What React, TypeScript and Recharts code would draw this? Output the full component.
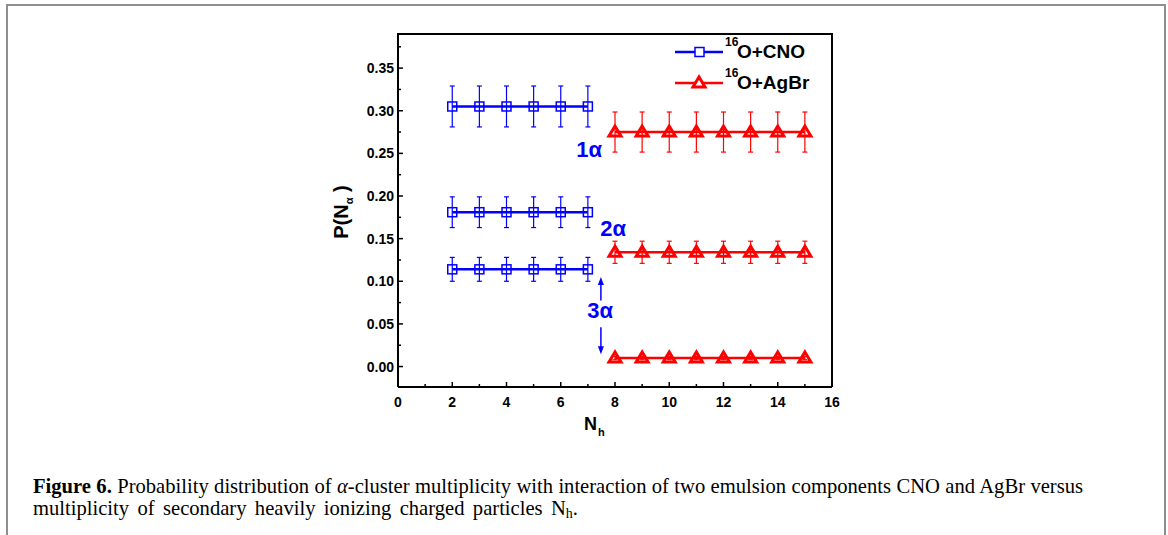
import { ComposedChart, Line, XAxis, YAxis, ErrorBar, Legend, ReferenceLine, ReferenceDot } from 'recharts';

const BLUE = '#0000ff';
const RED = '#ff0000';
const SANS = '"Liberation Sans", Arial, sans-serif';

// N_h values for each emulsion component
const nhCNO = [2, 3, 4, 5, 6, 7];
const nhAgBr = [8, 9, 10, 11, 12, 13, 14, 15];

// 16O + CNO : P(N_alpha) and errors
const cno1a = [0.305, 0.305, 0.305, 0.305, 0.305, 0.305];
const cno1aErr = [0.024, 0.024, 0.024, 0.024, 0.024, 0.024];
const cno2a = [0.181, 0.181, 0.181, 0.181, 0.181, 0.181];
const cno2aErr = [0.018, 0.018, 0.018, 0.018, 0.018, 0.018];
const cno3a = [0.114, 0.114, 0.114, 0.114, 0.114, 0.114];
const cno3aErr = [0.014, 0.014, 0.014, 0.014, 0.014, 0.014];

// 16O + AgBr
const agbr1a = [0.275, 0.275, 0.275, 0.275, 0.275, 0.275, 0.275, 0.275];
const agbr1aErr = [0.0235, 0.0235, 0.0235, 0.0235, 0.0235, 0.0235, 0.0235, 0.0235];
const agbr2a = [0.134, 0.134, 0.134, 0.134, 0.134, 0.134, 0.134, 0.134];
const agbr2aErr = [0.013, 0.013, 0.013, 0.013, 0.013, 0.013, 0.013, 0.013];
const agbr3a = [0.01, 0.01, 0.01, 0.01, 0.01, 0.01, 0.01, 0.01];
const agbr3aErr = [0.002, 0.002, 0.002, 0.002, 0.002, 0.002, 0.002, 0.002];

const xDomain = [0, 16];
const yDomain = [-0.024, 0.39];
const xTicks = [0, 1, 2, 3, 4, 5, 6, 7, 8, 9, 10, 11, 12, 13, 14, 15, 16];
const yTicks = [0, 0.025, 0.05, 0.075, 0.1, 0.125, 0.15, 0.175, 0.2, 0.225, 0.25, 0.275, 0.3, 0.325, 0.35, 0.375];

// multiplicity annotations (label, x, y)
const annotations = [
  { text: '1\u03b1', x: 7.05, y: 0.2545 },
  { text: '2\u03b1', x: 7.93, y: 0.162 },
  { text: '3\u03b1', x: 7.45, y: 0.066 },
];
const arrowUp = [{ x: 7.48, y: 0.0775 }, { x: 7.48, y: 0.105 }];
const arrowDown = [{ x: 7.48, y: 0.046 }, { x: 7.48, y: 0.0145 }];

// chart layout
const W = 1168;
const H = 535;
const MARGIN = { top: 34, right: 336, bottom: 118, left: 338 };
const Y_AXIS_W = 60;
const X_AXIS_H = 30;
const plotLeft = MARGIN.left + Y_AXIS_W;
const plotRight = W - MARGIN.right;
const plotTop = MARGIN.top;
const plotBottom = H - MARGIN.bottom - X_AXIS_H;

const rows = (xs: number[], ys: number[], errs: number[]) =>
  xs.map((x, i) => ({ x, y: ys[i], err: errs[i] }));

const SquareDot = (p: any) => {
  if (p.cx == null || p.cy == null) return null;
  return <rect x={p.cx - 4.5} y={p.cy - 4.5} width={9} height={9} fill="none" stroke={BLUE} strokeWidth={1.5} />;
};

const TriangleDot = (p: any) => {
  if (p.cx == null || p.cy == null) return null;
  const { cx, cy } = p;
  return (
    <polygon
      points={`${cx},${cy - 6} ${cx - 6},${cy + 4} ${cx + 6},${cy + 4}`}
      fill="none"
      stroke={RED}
      strokeWidth={3}
    />
  );
};

const YTick = (p: any) => {
  const v = p.payload.value;
  const major = Math.abs(v * 20 - Math.round(v * 20)) < 1e-6;
  return (
    <g>
      <line x1={p.x} y1={p.y} x2={p.x + (major ? 5 : 3)} y2={p.y} stroke="#000" strokeWidth={1.5} />
      {major && (
        <text x={p.x - 4} y={p.y} dy={5} textAnchor="end" fontFamily={SANS} fontWeight="bold" fontSize={14} fill="#000">
          {v.toFixed(2)}
        </text>
      )}
    </g>
  );
};

const XTick = (p: any) => {
  const v = p.payload.value;
  const major = v % 2 === 0;
  return (
    <g>
      <line x1={p.x} y1={p.y} x2={p.x} y2={p.y - (major ? 5 : 3)} stroke="#000" strokeWidth={1.5} />
      {major && (
        <text x={p.x} y={p.y + 20} textAnchor="middle" fontFamily={SANS} fontWeight="bold" fontSize={14} fill="#000">
          {v}
        </text>
      )}
    </g>
  );
};

const YTitle = (p: any) => {
  const vb = p.viewBox;
  const x = vb.x + 10;
  const y = 212;
  return (
    <text transform={`rotate(-90, ${x}, ${y})`} x={x} y={y} textAnchor="middle" fontFamily={SANS} fontWeight="bold" fontSize={20} fill="#000">
      P(N<tspan fontSize={11} dy={5}>{'\u03b1'}</tspan>
      <tspan dy={-5}> )</tspan>
    </text>
  );
};

const XTitle = (p: any) => {
  const vb = p.viewBox;
  return (
    <text x={vb.x + 186} y={vb.y + 43} fontFamily={SANS} fontWeight="bold" fontSize={18} fill="#000">
      N<tspan fontSize={11} dx={1} dy={6}>h</tspan>
    </text>
  );
};

const Arrow = (p: any) => {
  const { x1, y1, x2, y2 } = p;
  if (x1 == null) return null;
  const dir = Math.sign(y2 - y1);
  return (
    <g>
      <line x1={x1} y1={y1} x2={x2} y2={y2 - dir * 6} stroke={BLUE} strokeWidth={1.5} />
      <polygon points={`${x2},${y2} ${x2 - 3},${y2 - dir * 8} ${x2 + 3},${y2 - dir * 8}`} fill={BLUE} />
    </g>
  );
};

const legendItems = [
  { name: 'O+CNO', color: BLUE, shape: 'square' },
  { name: 'O+AgBr', color: RED, shape: 'triangle' },
];

const LegendContent = () => (
  <div style={{ fontFamily: SANS, fontWeight: 'bold' }}>
    {legendItems.map((it) => (
      <div key={it.name} style={{ display: 'flex', alignItems: 'center', height: 31 }}>
        <svg width={50} height={20}>
          <line x1={0} y1={10} x2={48} y2={10} stroke={it.color} strokeWidth={2.5} />
          {it.shape === 'square' ? (
            <rect x={20} y={5.5} width={9} height={9} fill="#fff" stroke={it.color} strokeWidth={1.5} />
          ) : (
            <polygon points="24,4 18,14 30,14" fill="#fff" stroke={it.color} strokeWidth={3} />
          )}
        </svg>
        <span style={{ fontSize: 19, color: '#000', position: 'relative', paddingLeft: 12 }}>
          <span style={{ fontSize: 12, position: 'absolute', left: 0, top: -6 }}>16</span>
          {it.name}
        </span>
      </div>
    ))}
  </div>
);

const series = [
  { key: 'cno1', data: rows(nhCNO, cno1a, cno1aErr), color: BLUE, dot: SquareDot },
  { key: 'cno2', data: rows(nhCNO, cno2a, cno2aErr), color: BLUE, dot: SquareDot },
  { key: 'cno3', data: rows(nhCNO, cno3a, cno3aErr), color: BLUE, dot: SquareDot },
  { key: 'agbr1', data: rows(nhAgBr, agbr1a, agbr1aErr), color: RED, dot: TriangleDot },
  { key: 'agbr2', data: rows(nhAgBr, agbr2a, agbr2aErr), color: RED, dot: TriangleDot },
  { key: 'agbr3', data: rows(nhAgBr, agbr3a, agbr3aErr), color: RED, dot: TriangleDot },
];

export default function App() {
  return (
    <div style={{ position: 'absolute', left: 0, top: 0, width: W, height: H, background: '#fff', overflow: 'hidden' }}>
      <div
        style={{
          position: 'absolute',
          left: 6,
          top: 4,
          width: 1156,
          height: 560,
          border: '2px solid #8f8f8f',
          borderBottom: 'none',
        }}
      />
      <div style={{ position: 'absolute', left: 0, top: 0 }}>
        <ComposedChart width={W} height={H} margin={MARGIN}>
          <XAxis
            dataKey="x"
            type="number"
            domain={xDomain}
            ticks={xTicks}
            interval={0}
            height={X_AXIS_H}
            tickSize={0}
            tickMargin={0}
            tickLine={false}
            tick={<XTick />}
            axisLine={{ stroke: '#000', strokeWidth: 2 }}
            label={<XTitle />}
          />
          <YAxis
            type="number"
            domain={yDomain}
            ticks={yTicks}
            interval={0}
            width={Y_AXIS_W}
            tickSize={0}
            tickMargin={0}
            tickLine={false}
            tick={<YTick />}
            axisLine={{ stroke: '#000', strokeWidth: 2 }}
            label={<YTitle />}
          />
          {series.map((s) => (
            <Line
              key={s.key}
              data={s.data}
              dataKey="y"
              type="linear"
              stroke={s.color}
              strokeWidth={2.5}
              dot={<s.dot />}
              activeDot={false}
              isAnimationActive={false}
              legendType="none"
            >
              <ErrorBar dataKey="err" direction="y" width={2.5} stroke={s.color} strokeWidth={1.2} />
            </Line>
          ))}
          <ReferenceLine segment={arrowUp} shape={<Arrow />} />
          <ReferenceLine segment={arrowDown} shape={<Arrow />} />
          {annotations.map((a) => (
            <ReferenceDot
              key={a.text}
              x={a.x}
              y={a.y}
              r={0}
              stroke="none"
              fill="none"
              label={{ value: a.text, position: 'center', fill: BLUE, fontSize: 22, fontWeight: 'bold', fontFamily: SANS }}
            />
          ))}
          <Legend
            layout="vertical"
            align="center"
            verticalAlign="middle"
            content={<LegendContent />}
            wrapperStyle={{ position: 'absolute', left: 675, top: 36, width: 160 }}
          />
        </ComposedChart>
      </div>
      {/* top and right sides of the plot box */}
      <div
        style={{
          position: 'absolute',
          left: plotLeft - 1,
          top: plotTop - 1,
          width: plotRight - plotLeft,
          height: plotBottom - plotTop - 1,
          borderTop: '2px solid #000',
          borderRight: '2px solid #000',
          pointerEvents: 'none',
        }}
      />
      <div
        style={{
          position: 'absolute',
          left: 33,
          top: 475,
          width: 1050,
          fontFamily: '"Liberation Serif", "Times New Roman", serif',
          fontSize: 20.6,
          lineHeight: '22px',
          color: '#000',
        }}
      >
        <div style={{ textAlignLast: 'justify', whiteSpace: 'nowrap' }}>
          <b>Figure 6.</b> Probability distribution of <i>{'\u03b1'}</i>-cluster multiplicity with interaction of two emulsion components CNO and AgBr versus
        </div>
        <div style={{ width: 545, textAlignLast: 'justify', whiteSpace: 'nowrap' }}>
          multiplicity of secondary heavily ionizing charged particles N<sub style={{ fontSize: 14, verticalAlign: -3 }}>h</sub>.
        </div>
      </div>
    </div>
  );
}
